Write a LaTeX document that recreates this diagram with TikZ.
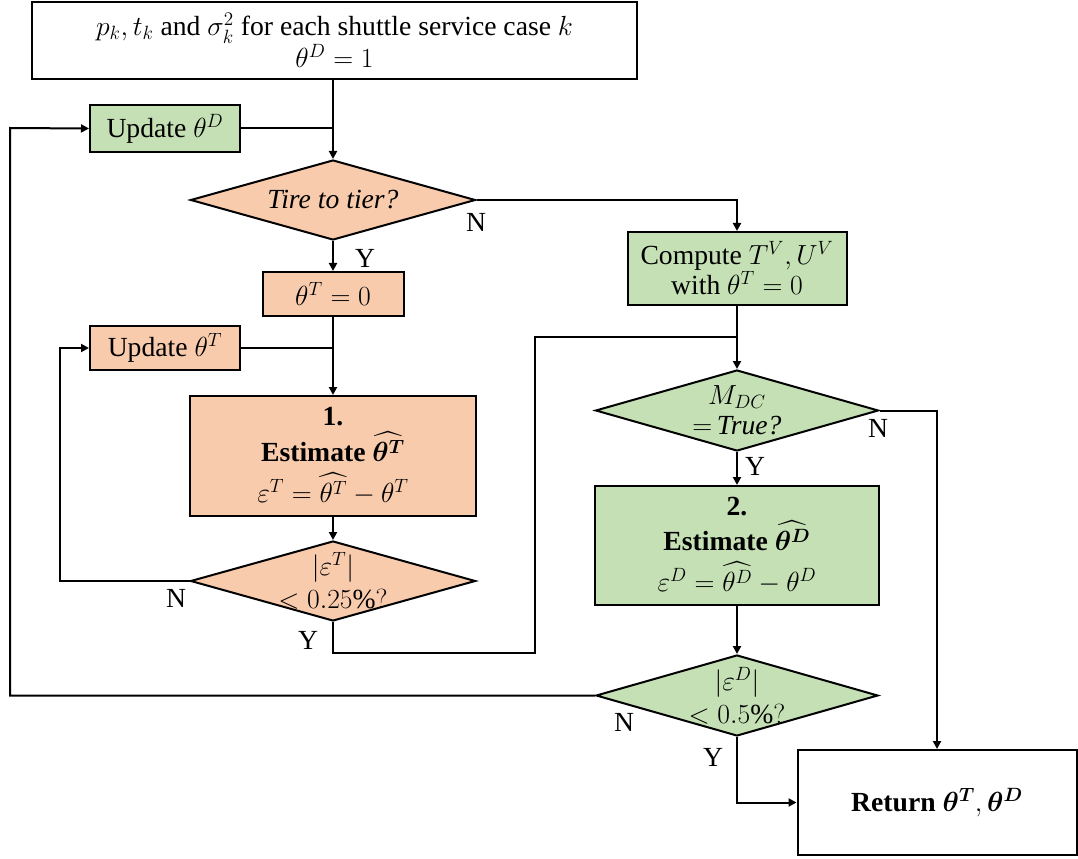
\documentclass[tikz,border=0pt]{standalone}
\usepackage{amsmath,bm}
\usepackage{fontspec}
\setmainfont{Liberation Serif}
\usetikzlibrary{arrows.meta,shapes.geometric}
\definecolor{peach}{HTML}{F8CBAD}
\definecolor{sage}{HTML}{C5E0B4}
\begin{document}
\begin{tikzpicture}[x=0.75pt,y=-0.75pt,
  font=\fontsize{20.74}{22.5}\selectfont,
  every node/.style={inner sep=0pt},
  sz/.style 2 args={minimum width=#1*0.75pt, minimum height=#2*0.75pt},
  box/.style={draw, line width=1.5pt, rectangle, align=center},
  dia/.style={draw, line width=1.5pt, diamond, inner sep=0pt},
  link/.style={line width=1.5pt},
  flow/.style={link, -{Triangle[length=6pt,width=6pt]}},
  yn/.style={font=\fontsize{20.74}{22.5}\selectfont}]
\useasboundingbox (0,0) rectangle (1078,859);

% left column
\node[box, sz={605}{77}] (top) at (334.5,40.5)
  {$p_k, t_k$ and $\sigma_k^2$ for each shuttle service case $k$\\ $\theta^D = 1$};
\node[box, fill=sage, sz={150}{47}] (updD) at (165,128.5) {Update $\theta^D$};
\node[dia, fill=peach, sz={285}{80}, label={center:\textit{Tire to tier?}}] (d1) at (333,200) {};
\node[box, fill=peach, sz={141}{44}] (thT) at (333,294) {$\theta^T = 0$};
\node[box, fill=peach, sz={150}{44}] (updT) at (165,348) {Update $\theta^T$};
\node[box, fill=peach, sz={286}{120}] (est1) at (333,456)
  {\textbf{1.}\\[3pt] \textbf{Estimate} $\widehat{\bm{\theta}^{\bm{T}}}$\\[7pt]
   $\varepsilon^T = \widehat{\theta^T} - \theta^T$};
\node[dia, fill=peach, sz={285}{80},
  label={[align=center]center:$|\varepsilon^T|$\\[2pt] $<0.25\%?$}] (d2) at (333,581) {};

% right column
\node[box, fill=sage, sz={219}{73}] (comp) at (737,268.5)
  {Compute $T^V, U^V$\\ with $\theta^T = 0$};
\node[dia, fill=sage, sz={283}{81},
  label={[align=center]center:$M_{DC}$\\ $=$\,\textit{True?}}] (d3) at (737,410.5) {};
\node[box, fill=sage, sz={284}{119}] (est2) at (737,545.5)
  {\textbf{2.}\\[3pt] \textbf{Estimate} $\widehat{\bm{\theta}^{\bm{D}}}$\\[7pt]
   $\varepsilon^D = \widehat{\theta^D} - \theta^D$};
\node[dia, fill=sage, sz={282}{81},
  label={[align=center]center:$|\varepsilon^D|$\\[2pt] $<0.5\%?$}] (d4) at (737,695.5) {};
\node[box, sz={279}{105}] (ret) at (937,802.5)
  {\textbf{Return} $\bm{\theta}^{\bm{T}}, \bm{\theta}^{\bm{D}}$};

% turning points of the loops
\coordinate (lt) at (60,348);
\coordinate (ll) at (10,128);
\coordinate (yb) at (535,653);
\coordinate (yt) at (535,337);

% connectors
\draw[flow] (d1.north |- top.south) -- (d1.north);
\draw[link] (updD.east) -- (d1.north |- updD.east);
\draw[flow] (d1.east) -| (comp.north);
\draw[flow] (d1.south) -- (thT.north);
\draw[flow] (thT.south) -- (est1.north);
\draw[link] (updT.east) -- (est1.north |- updT.east);
\draw[flow] (est1.south) -- (d2.north);
\draw[flow] (d2.west) -| (lt) -- (updT.west);
\draw[link] (d2.south) |- (yb) -- (yt) -- (yt -| d3.north);
\draw[flow] (comp.south) -- (d3.north);
\draw[flow] (d3.east) -| (ret.north);
\draw[flow] (d3.south) -- (est2.north);
\draw[flow] (est2.south) -- (d4.north);
\draw[flow] (d4.west) -| (ll) -- (updD.west);
\draw[flow] (d4.south) |- (ret.west);

% branch labels
\node[yn] (n1) at (476,222) {N};
\node[yn] (y1) at (365,258) {Y};
\node[yn] (n2) at (176,598) {N};
\node[yn] (y2) at (308,640) {Y};
\node[yn] (n3) at (878,428) {N};
\node[yn] (y3) at (755,466) {Y};
\node[yn] (n4) at (624,722) {N};
\node[yn] (y4) at (713,757) {Y};
\end{tikzpicture}
\end{document}
